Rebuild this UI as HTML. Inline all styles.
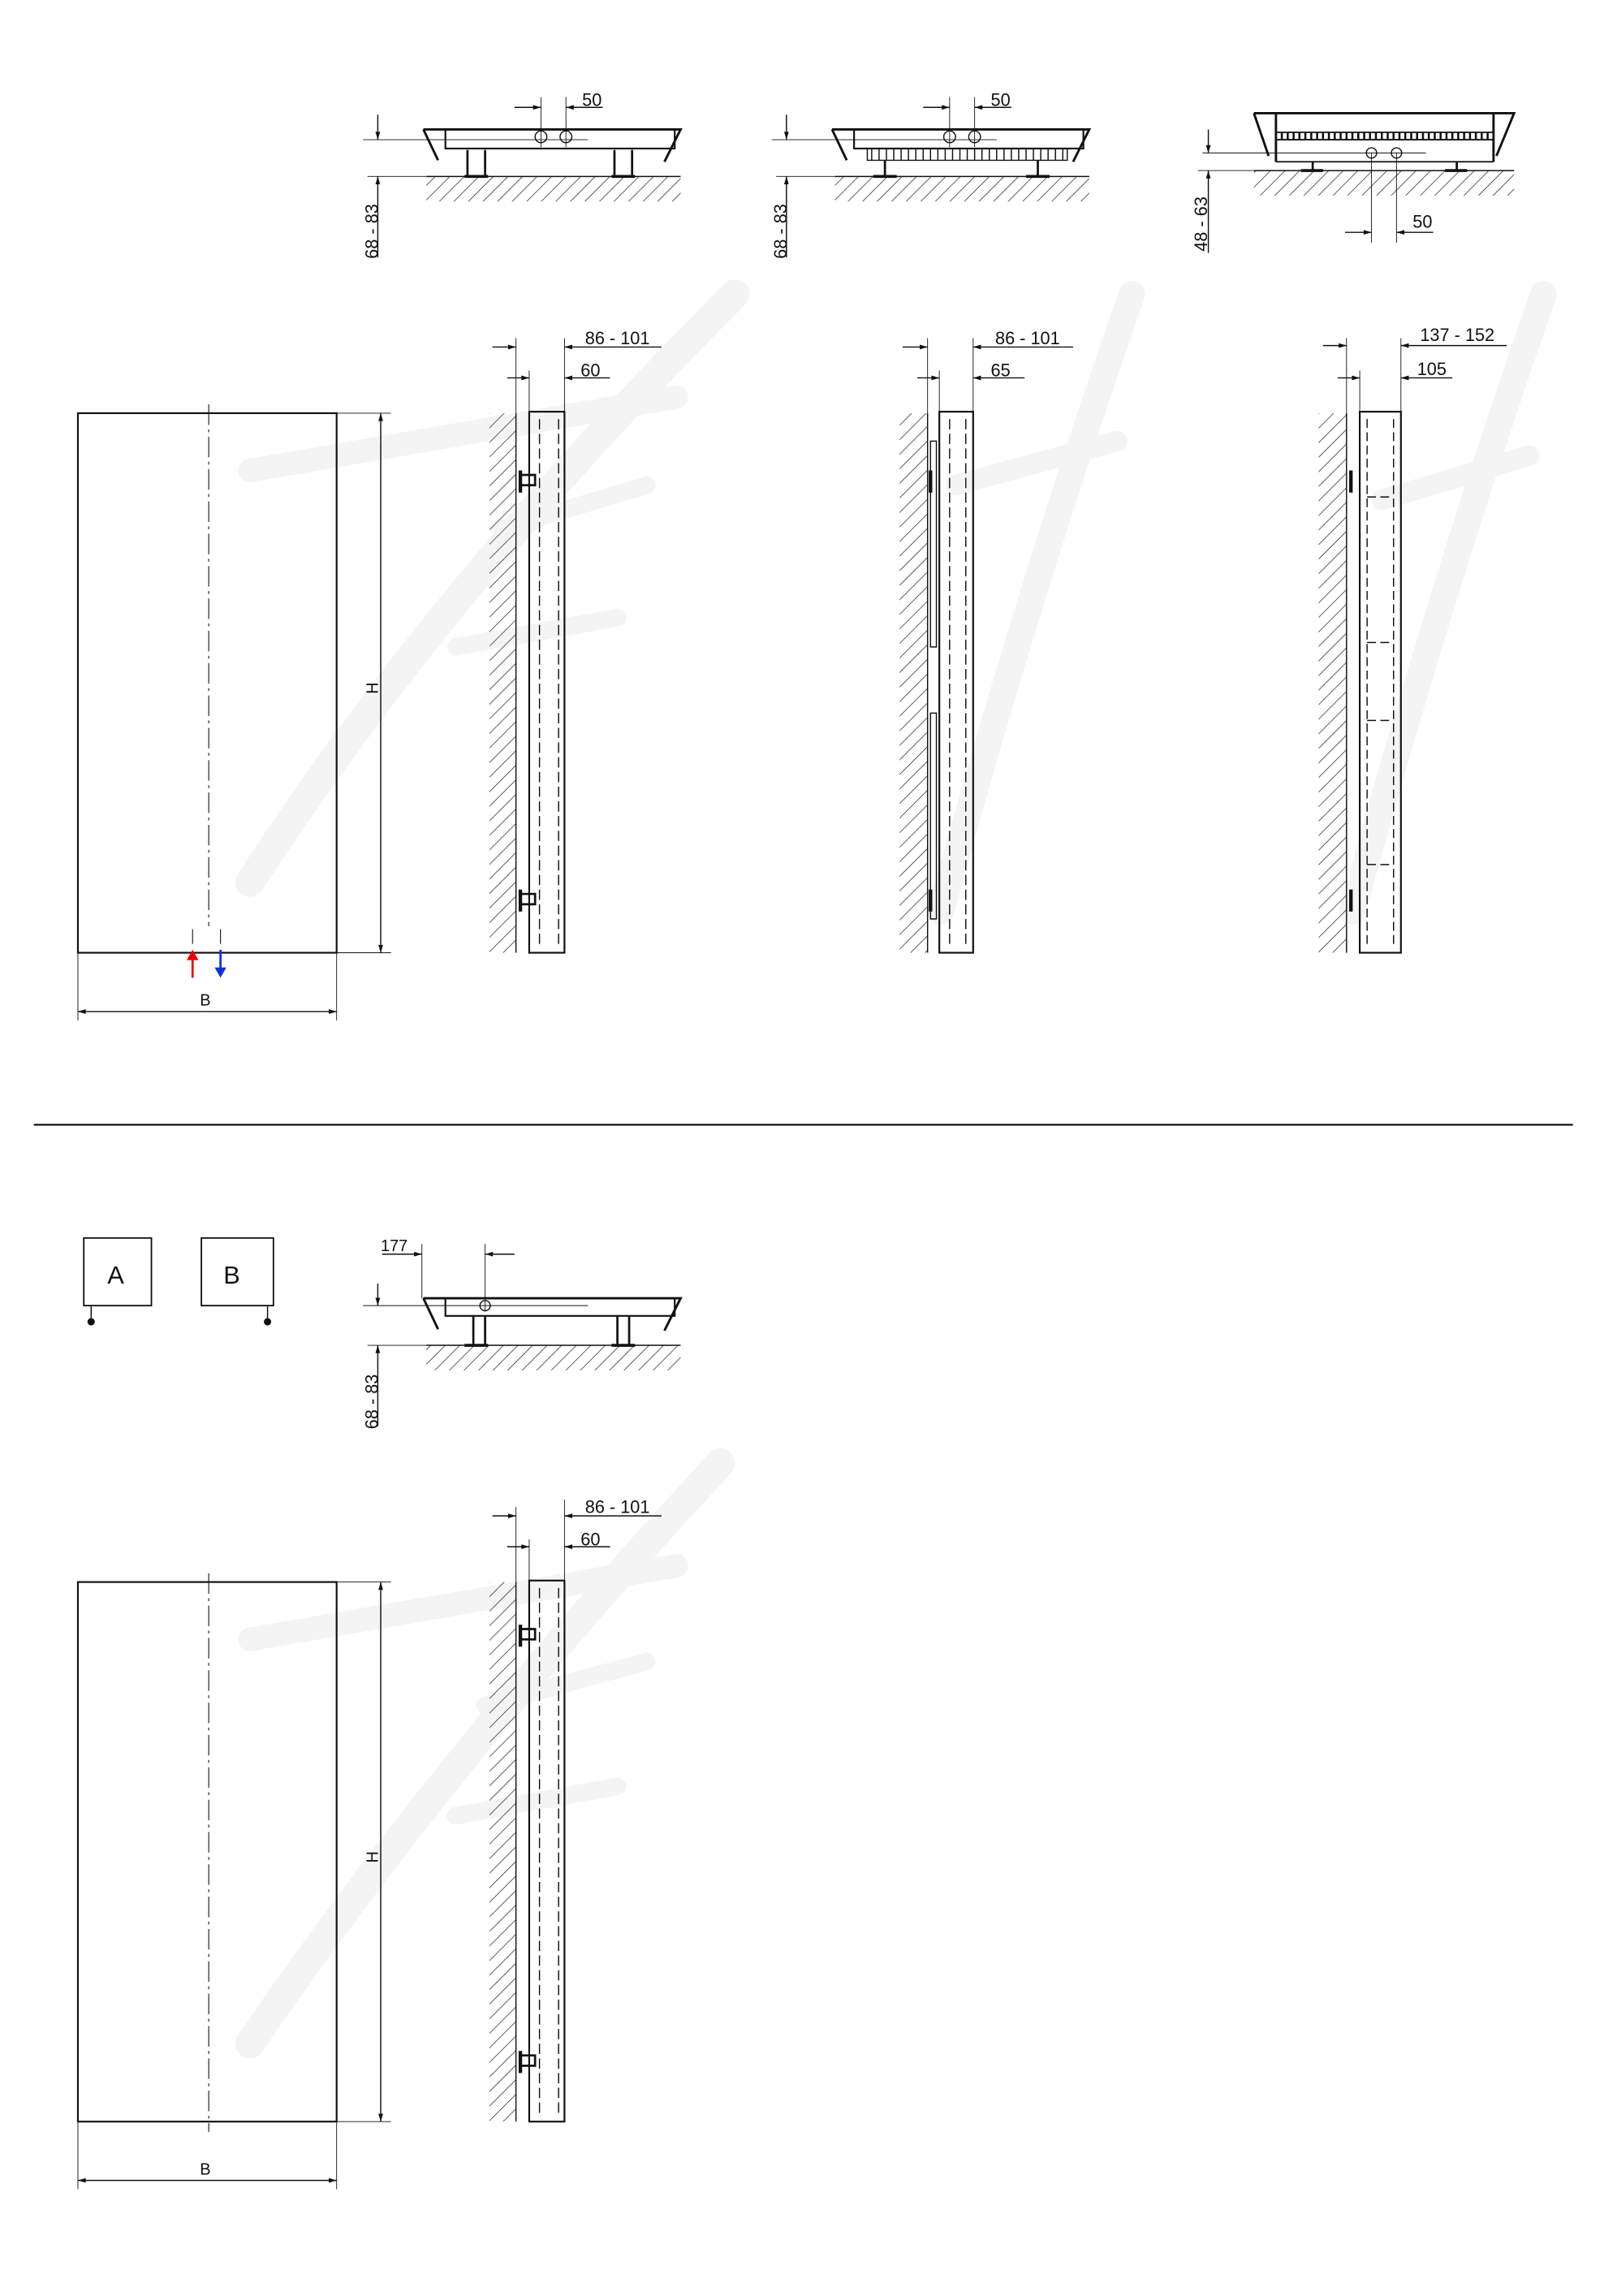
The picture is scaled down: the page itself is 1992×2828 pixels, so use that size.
<!DOCTYPE html>
<html><head><meta charset="utf-8"><style>
html,body{margin:0;padding:0;background:#fff}
svg{display:block}
text{font-family:"Liberation Sans",sans-serif;fill:#111}
</style></head><body>
<svg width="1992" height="2828" viewBox="0 0 1100 1561.6" xmlns="http://www.w3.org/2000/svg">
<defs>
<pattern id="h" patternUnits="userSpaceOnUse" width="7" height="7" patternTransform="rotate(45)">
<line x1="0" y1="0" x2="0" y2="7" stroke="#222" stroke-width="0.8"/>
</pattern>
<marker id="ar" viewBox="0 0 10 6" refX="10" refY="3" markerWidth="8" markerHeight="4" orient="auto-start-reverse"><path d="M0,0 L10,3 L0,6z" fill="#111"/></marker>
</defs>
<rect width="1100" height="1562" fill="#fff"/>
<!-- watermarks -->
<g stroke="#f4f4f4" stroke-linecap="round" fill="none">
<path d="M170 600 Q300 400 500 200" stroke-width="20"/>
<path d="M170 320 L460 270" stroke-width="16"/>
<path d="M340 360 L440 330" stroke-width="12"/>
<path d="M310 440 L420 420" stroke-width="12"/>
<path d="M640 620 Q700 400 770 200" stroke-width="18"/>
<path d="M650 330 L760 300" stroke-width="14"/>
<path d="M920 620 Q980 400 1050 200" stroke-width="18"/>
<path d="M940 340 L1040 310" stroke-width="14"/>
<path d="M170 1390 Q300 1200 490 995" stroke-width="20"/>
<path d="M170 1115 L460 1065" stroke-width="16"/>
<path d="M330 1160 L440 1130" stroke-width="12"/>
<path d="M310 1235 L420 1215" stroke-width="12"/>
</g>
<g stroke="#111" fill="none" stroke-width="0.8">
<!-- ===== top view 1 ===== -->
<g id="tv1">
<path d="M288 88 L463 88 L452 110 M288 88 L298 109" stroke-width="1.6"/>
<rect x="303" y="88" width="156" height="13" stroke-width="1.2"/>
<rect x="290" y="120" width="173" height="17" fill="url(#h)" stroke="none"/>
<line x1="290" y1="120" x2="463" y2="120"/>
<path d="M318 102 v18 M330 102 v18 M418 102 v18 M430 102 v18" stroke-width="1.5"/>
<path d="M316 120 h16 M416 120 h16" stroke-width="2"/>
<circle cx="368" cy="93" r="4"/><circle cx="385" cy="93" r="4"/>
<line x1="247" y1="95" x2="400" y2="95" stroke-width="0.5"/>
<line x1="368" y1="66" x2="368" y2="100" stroke-width="0.5"/>
<line x1="385" y1="66" x2="385" y2="100" stroke-width="0.5"/>
<line x1="350" y1="73" x2="368" y2="73" marker-end="url(#ar)"/>
<line x1="410" y1="73" x2="385" y2="73" marker-end="url(#ar)"/>
<line x1="257" y1="78" x2="257" y2="95" marker-end="url(#ar)"/>
<line x1="257" y1="175" x2="257" y2="120" marker-end="url(#ar)"/>
<line x1="250" y1="120" x2="290" y2="120" stroke-width="0.5"/>
</g>
<!-- top view 2 -->
<g transform="translate(278,0)">
<path d="M288 88 L463 88 L452 110 M288 88 L298 109" stroke-width="1.6"/>
<rect x="303" y="88" width="156" height="13" stroke-width="1.2"/>
<path d="M312 101 h136 v8 h-136z" stroke-width="0.8"/>
<path d="M315 101v8 M320 101v8 M325 101v8 M330 101v8 M335 101v8 M340 101v8 M345 101v8 M350 101v8 M355 101v8 M360 101v8 M365 101v8 M370 101v8 M375 101v8 M380 101v8 M385 101v8 M390 101v8 M395 101v8 M400 101v8 M405 101v8 M410 101v8 M415 101v8 M420 101v8 M425 101v8 M430 101v8 M435 101v8 M440 101v8 M445 101v8"/>
<rect x="290" y="120" width="173" height="17" fill="url(#h)" stroke="none"/>
<line x1="290" y1="120" x2="463" y2="120"/>
<path d="M324 109 v11 M428 109 v11" stroke-width="1.5"/>
<path d="M316 120 h16 M420 120 h16" stroke-width="2"/>
<circle cx="368" cy="93" r="4"/><circle cx="385" cy="93" r="4"/>
<line x1="247" y1="95" x2="400" y2="95" stroke-width="0.5"/>
<line x1="368" y1="66" x2="368" y2="100" stroke-width="0.5"/>
<line x1="385" y1="66" x2="385" y2="100" stroke-width="0.5"/>
<line x1="350" y1="73" x2="368" y2="73" marker-end="url(#ar)"/>
<line x1="410" y1="73" x2="385" y2="73" marker-end="url(#ar)"/>
<line x1="257" y1="78" x2="257" y2="95" marker-end="url(#ar)"/>
<line x1="257" y1="175" x2="257" y2="120" marker-end="url(#ar)"/>
<line x1="250" y1="120" x2="290" y2="120" stroke-width="0.5"/>
</g>
<!-- top view 3 -->
<g>
<path d="M853 77 L1030 77 L1018 106 M853 77 L863 106" stroke-width="1.6"/>
<path d="M868 77 v33 M1016 77 v33" stroke-width="1.6"/>
<path d="M868 90 h148 M868 95 h148 M868 110 h148" stroke-width="1"/>
<path d="M872 90v5 M876 90v5 M880 90v5 M884 90v5 M888 90v5 M892 90v5 M896 90v5 M900 90v5 M904 90v5 M908 90v5 M912 90v5 M916 90v5 M920 90v5 M924 90v5 M928 90v5 M932 90v5 M936 90v5 M940 90v5 M944 90v5 M948 90v5 M952 90v5 M956 90v5 M960 90v5 M964 90v5 M968 90v5 M972 90v5 M976 90v5 M980 90v5 M984 90v5 M988 90v5 M992 90v5 M996 90v5 M1000 90v5 M1004 90v5 M1008 90v5 M1012 90v5" stroke-width="1.4"/>
<rect x="853" y="116" width="177" height="17" fill="url(#h)" stroke="none"/>
<line x1="853" y1="116" x2="1030" y2="116"/>
<path d="M893 110 v6 M991 110 v6" stroke-width="1.5"/>
<path d="M885 116 h15 M983 116 h15" stroke-width="2"/>
<circle cx="933" cy="104" r="3.5"/><circle cx="950" cy="104" r="3.5"/>
<line x1="818" y1="104" x2="970" y2="104" stroke-width="0.5"/>
<line x1="933" y1="104" x2="933" y2="165" stroke-width="0.5"/>
<line x1="950" y1="104" x2="950" y2="165" stroke-width="0.5"/>
<line x1="915" y1="158" x2="933" y2="158" marker-end="url(#ar)"/>
<line x1="975" y1="158" x2="950" y2="158" marker-end="url(#ar)"/>
<line x1="822" y1="88" x2="822" y2="104" marker-end="url(#ar)"/>
<line x1="822" y1="172" x2="822" y2="116" marker-end="url(#ar)"/>
<line x1="815" y1="116" x2="853" y2="116" stroke-width="0.5"/>
</g>

<!-- ===== front view top ===== -->
<rect x="53" y="281" width="176" height="367" stroke-width="1.2"/>
<line x1="142" y1="275" x2="142" y2="630" stroke-dasharray="14,3,2,3" stroke-width="0.6"/>
<line x1="229" y1="281" x2="266" y2="281" stroke-width="0.5"/>
<line x1="229" y1="648" x2="266" y2="648" stroke-width="0.5"/>
<line x1="259" y1="300" x2="259" y2="281" marker-end="url(#ar)"/>
<line x1="259" y1="630" x2="259" y2="648" marker-end="url(#ar)"/>
<line x1="259" y1="300" x2="259" y2="630"/>
<line x1="53" y1="648" x2="53" y2="694" stroke-width="0.5"/>
<line x1="229" y1="648" x2="229" y2="694" stroke-width="0.5"/>
<line x1="140" y1="688" x2="53" y2="688" marker-end="url(#ar)"/>
<line x1="140" y1="688" x2="229" y2="688" marker-end="url(#ar)"/>
<path d="M131 632 v10 M150 632 v10" stroke-width="0.6"/>
<!-- ===== front view bottom ===== -->
<rect x="53" y="1076" width="176" height="367" stroke-width="1.2"/>
<line x1="142" y1="1070" x2="142" y2="1450" stroke-dasharray="14,3,2,3" stroke-width="0.6"/>
<line x1="229" y1="1076" x2="266" y2="1076" stroke-width="0.5"/>
<line x1="229" y1="1443" x2="266" y2="1443" stroke-width="0.5"/>
<line x1="259" y1="1100" x2="259" y2="1076" marker-end="url(#ar)"/>
<line x1="259" y1="1420" x2="259" y2="1443" marker-end="url(#ar)"/>
<line x1="259" y1="1100" x2="259" y2="1420"/>
<line x1="53" y1="1443" x2="53" y2="1489" stroke-width="0.5"/>
<line x1="229" y1="1443" x2="229" y2="1489" stroke-width="0.5"/>
<line x1="140" y1="1483" x2="53" y2="1483" marker-end="url(#ar)"/>
<line x1="140" y1="1483" x2="229" y2="1483" marker-end="url(#ar)"/>

<!-- separator -->
<line x1="23" y1="765" x2="1070" y2="765" stroke-width="1.2"/>

<!-- ===== side view 1 ===== -->
<g id="sv">
<rect x="333" y="281" width="18" height="367" fill="url(#h)" stroke="none"/>
<line x1="351" y1="281" x2="351" y2="648"/>
<rect x="360" y="280" width="24" height="368" stroke-width="1.2"/>
<path d="M367 285 v358 M380 285 v358" stroke-dasharray="7,3"/>
<path d="M354 320 v15 M354 605 v15" stroke-width="2.4"/>
<path d="M354 323 h10 v7 h-10 M354 608 h10 v7 h-10" stroke-width="1.5"/>
<line x1="351" y1="230" x2="351" y2="281" stroke-width="0.5"/>
<line x1="384" y1="230" x2="384" y2="280" stroke-width="0.5"/>
<line x1="360" y1="252" x2="360" y2="280" stroke-width="0.5"/>
<line x1="335" y1="236" x2="351" y2="236" marker-end="url(#ar)"/>
<line x1="450" y1="236" x2="384" y2="236" marker-end="url(#ar)"/>
<line x1="345" y1="257" x2="360" y2="257" marker-end="url(#ar)"/>
<line x1="415" y1="257" x2="384" y2="257" marker-end="url(#ar)"/>
</g>
<!-- side view 2 -->
<g>
<rect x="612" y="281" width="19" height="367" fill="url(#h)" stroke="none"/>
<line x1="631" y1="281" x2="631" y2="648"/>
<rect x="639" y="280" width="23" height="368" stroke-width="1.2"/>
<path d="M646 285 v358 M657 285 v358" stroke-dasharray="7,3"/>
<path d="M633 300 h4 v140 h-4z M633 485 h4 v140 h-4z"/>
<path d="M633 320 v15 M633 605 v15" stroke-width="2.4"/>
<line x1="631" y1="230" x2="631" y2="281" stroke-width="0.5"/>
<line x1="662" y1="230" x2="662" y2="280" stroke-width="0.5"/>
<line x1="639" y1="252" x2="639" y2="280" stroke-width="0.5"/>
<line x1="614" y1="236" x2="631" y2="236" marker-end="url(#ar)"/>
<line x1="730" y1="236" x2="662" y2="236" marker-end="url(#ar)"/>
<line x1="624" y1="257" x2="639" y2="257" marker-end="url(#ar)"/>
<line x1="697" y1="257" x2="662" y2="257" marker-end="url(#ar)"/>
</g>
<!-- side view 3 -->
<g>
<rect x="897" y="281" width="19" height="367" fill="url(#h)" stroke="none"/>
<line x1="916" y1="281" x2="916" y2="648"/>
<rect x="925" y="280" width="28" height="368" stroke-width="1.2"/>
<path d="M930 285 v358 M948 285 v358 M930 338 h18 M930 437 h18 M930 490 h18 M930 588 h18" stroke-dasharray="6,3"/>
<path d="M919 320 v15 M919 605 v15" stroke-width="2.4"/>
<line x1="916" y1="230" x2="916" y2="281" stroke-width="0.5"/>
<line x1="953" y1="230" x2="953" y2="280" stroke-width="0.5"/>
<line x1="925" y1="252" x2="925" y2="280" stroke-width="0.5"/>
<line x1="900" y1="235" x2="916" y2="235" marker-end="url(#ar)"/>
<line x1="1025" y1="235" x2="953" y2="235" marker-end="url(#ar)"/>
<line x1="910" y1="257" x2="925" y2="257" marker-end="url(#ar)"/>
<line x1="988" y1="257" x2="953" y2="257" marker-end="url(#ar)"/>
</g>
<!-- side view bottom -->
<g transform="translate(0,795)">
<rect x="333" y="281" width="18" height="367" fill="url(#h)" stroke="none"/>
<line x1="351" y1="281" x2="351" y2="648"/>
<rect x="360" y="280" width="24" height="368" stroke-width="1.2"/>
<path d="M367 285 v358 M380 285 v358" stroke-dasharray="7,3"/>
<path d="M354 310 v15 M354 600 v15" stroke-width="2.4"/>
<path d="M354 313 h10 v7 h-10 M354 603 h10 v7 h-10" stroke-width="1.5"/>
<line x1="351" y1="230" x2="351" y2="281" stroke-width="0.5"/>
<line x1="384" y1="225" x2="384" y2="280" stroke-width="0.5"/>
<line x1="360" y1="252" x2="360" y2="280" stroke-width="0.5"/>
<line x1="335" y1="236" x2="351" y2="236" marker-end="url(#ar)"/>
<line x1="450" y1="236" x2="384" y2="236" marker-end="url(#ar)"/>
<line x1="345" y1="257" x2="360" y2="257" marker-end="url(#ar)"/>
<line x1="415" y1="257" x2="384" y2="257" marker-end="url(#ar)"/>
</g>
<!-- bottom top view -->
<g>
<path d="M288 883 L463 883 L452 905 M288 883 L298 904" stroke-width="1.6"/>
<rect x="303" y="883" width="156" height="12" stroke-width="1.2"/>
<rect x="290" y="915" width="173" height="17" fill="url(#h)" stroke="none"/>
<line x1="290" y1="915" x2="463" y2="915"/>
<path d="M322 895 v20 M330 895 v20 M420 895 v20 M428 895 v20" stroke-width="1.5"/>
<path d="M316 915 h16 M416 915 h16" stroke-width="2"/>
<circle cx="330" cy="888" r="3.5"/>
<line x1="247" y1="888" x2="400" y2="888" stroke-width="0.5"/>
<line x1="287" y1="846" x2="287" y2="883" stroke-width="0.5"/>
<line x1="330" y1="846" x2="330" y2="892" stroke-width="0.5"/>
<line x1="260" y1="853" x2="287" y2="853" marker-end="url(#ar)"/>
<line x1="350" y1="853" x2="330" y2="853" marker-end="url(#ar)"/>
<line x1="257" y1="873" x2="257" y2="888" marker-end="url(#ar)"/>
<line x1="257" y1="970" x2="257" y2="915" marker-end="url(#ar)"/>
<line x1="250" y1="915" x2="290" y2="915" stroke-width="0.5"/>
</g>
<!-- A / B boxes -->
<rect x="57" y="842" width="46" height="46" stroke-width="1"/>
<rect x="137" y="842" width="49" height="46" stroke-width="1"/>
<path d="M62 888 v9 M182 888 v9"/>
</g>
<circle cx="62" cy="899" r="2.5" fill="#111"/>
<circle cx="182" cy="899" r="2.5" fill="#111"/>
<!-- arrows -->
<line x1="131" y1="665" x2="131" y2="652" stroke="#e00" stroke-width="1.5"/>
<path d="M127 653 L131 646 L135 653z" fill="#e00"/>
<line x1="150" y1="646" x2="150" y2="659" stroke="#1030e0" stroke-width="1.5"/>
<path d="M146 658 L150 665 L154 658z" fill="#1030e0"/>
<!-- text -->
<g font-size="12">
<text x="396" y="72">50</text>
<text x="674" y="72">50</text>
<text x="961" y="155">50</text>
<text transform="translate(257,176) rotate(-90)">68 - 83</text>
<text transform="translate(535,176) rotate(-90)">68 - 83</text>
<text transform="translate(821,171) rotate(-90)">48 - 63</text>
<text transform="translate(257,972) rotate(-90)">68 - 83</text>
<text x="398" y="234">86  - 101</text>
<text x="395" y="256">60</text>
<text x="677" y="234">86  - 101</text>
<text x="674" y="256">65</text>
<text x="966" y="232">137  - 152</text>
<text x="964" y="255">105</text>
<text x="398" y="1029">86  - 101</text>
<text x="395" y="1051">60</text>
<text x="259" y="851" font-size="11">177</text>
<text x="136" y="684" font-size="11">B</text>
<text x="136" y="1479" font-size="11">B</text>
<text transform="translate(257,472) rotate(-90)" font-size="11">H</text>
<text transform="translate(257,1267) rotate(-90)" font-size="11">H</text>
<text x="73" y="873" font-size="17">A</text>
<text x="152" y="873" font-size="17">B</text>
</g>
</svg>
</body></html>
